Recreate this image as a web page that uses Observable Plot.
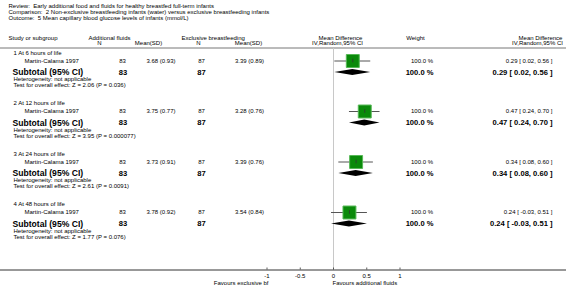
<!DOCTYPE html>
<html>
<head>
<meta charset="utf-8">
<script src="https://cdn.jsdelivr.net/npm/d3@7"></script>
<script src="https://cdn.jsdelivr.net/npm/@observablehq/plot@0.6"></script>
<style>
  html, body { margin: 0; padding: 0; background: #fff; }
</style>
</head>
<body>
<div id="chart"></div>
<script>
// ---------------- data ----------------
const titleLines = [
  "Review:  Early additional food and fluids for healthy breastfed full-term infants",
  "Comparison:  2 Non-exclusive breastfeeding infants (water) versus exclusive breastfeeding infants",
  "Outcome:  5 Mean capillary blood glucose levels of infants (mmol/L)"
];
const groups = ["1 At 6 hours of life", "2 At 12 hours of life", "3 At 24 hours of life", "4 At 48 hours of life"];
const studies = ["Martin-Calama 1997", "Martin-Calama 1997", "Martin-Calama 1997", "Martin-Calama 1997"];
const nAdd = [83, 83, 83, 83];
const meanAdd = [3.68, 3.75, 3.73, 3.78];
const sdAdd = [0.93, 0.77, 0.91, 0.92];
const nExc = [87, 87, 87, 87];
const meanExc = [3.39, 3.28, 3.39, 3.54];
const sdExc = [0.89, 0.76, 0.76, 0.84];
const md = [0.29, 0.47, 0.34, 0.24];
const lo = [0.02, 0.24, 0.08, -0.03];
const hi = [0.56, 0.70, 0.60, 0.51];
const weight = [100, 100, 100, 100];
const heterogeneity = ["Heterogeneity: not applicable", "Heterogeneity: not applicable", "Heterogeneity: not applicable", "Heterogeneity: not applicable"];
const zTests = ["Z = 2.06 (P = 0.036)", "Z = 3.95 (P = 0.000077)", "Z = 2.61 (P = 0.0091)", "Z = 1.77 (P = 0.076)"];
const tickValues = [-1, -0.5, 0, 0.5, 1];
const tickLabels = ["-1", "-0.5", "0", "0.5", "1"];
const favoursLeft = "Favours exclusive bf";
const favoursRight = "Favours additional fluids";

// ---------------- layout ----------------
const W = 566, H = 301;
const axisY = 269.5;
const xPx = [266.5, 399.5];               // pixel range of domain [-1, 1]
const px = d3.scaleLinear().domain(xPx).range([-1, 1]); // pixel -> data units for text columns
const f2 = d => d.toFixed(2);
const ci = (m, l, h) => `${f2(m)} [ ${f2(l)}, ${f2(h)} ]`;

const S0 = 60.5, STEP = 50.5;
const rows = groups.map((g, i) => {
  const s = S0 + i * STEP;
  return {
    i, label: g, study: studies[i],
    yLabel: s - 8, yStudy: s, ySub: s + 11.5, yHet: s + 18.3, yTest: s + 24.2,
    nA: nAdd[i], mA: `${f2(meanAdd[i])} (${f2(sdAdd[i])})`,
    nE: nExc[i], mE: `${f2(meanExc[i])} (${f2(sdExc[i])})`,
    md: md[i], lo: lo[i], hi: hi[i],
    w: weight[i].toFixed(1) + " %",
    ci: ci(md[i], lo[i], hi[i]),
    het: heterogeneity[i],
    test: "Test for overall effect: " + zTests[i]
  };
});

const diamonds = rows.flatMap(r => [
  {g: r.i, x: r.lo, y1: r.ySub, y2: r.ySub},
  {g: r.i, x: r.md, y1: r.ySub - 3, y2: r.ySub + 3},
  {g: r.i, x: r.hi, y1: r.ySub, y2: r.ySub}
]);

const small = 6, boldN = 7.6, boldL = 8.6, head = 6;
const T = (data, opts) => Plot.text(data, {fill: "#000", ...opts});

const titleData = titleLines.map((t, k) => ({t, y: 5.5 + k * 6}));

const headers = [
  {t: "Study or subgroup", x: 8, y: 37.5, a: "start"},
  {t: "Additional fluids", x: 88, y: 37.5, a: "start"},
  {t: "N", x: 99, y: 43, a: "middle"},
  {t: "Mean(SD)", x: 148, y: 43, a: "middle"},
  {t: "Exclusive breastfeeding", x: 181, y: 37.5, a: "start"},
  {t: "N", x: 198, y: 43, a: "middle"},
  {t: "Mean(SD)", x: 248, y: 43, a: "middle"},
  {t: "Mean Difference", x: 340, y: 37.5, a: "middle"},
  {t: "IV,Random,95% CI", x: 337, y: 43, a: "middle"},
  {t: "Weight", x: 415, y: 38, a: "middle"},
  {t: "Mean Difference", x: 540, y: 37.5, a: "middle"},
  {t: "IV,Random,95% CI", x: 537, y: 43, a: "middle"}
];

const chart = Plot.plot({
  width: W, height: H,
  marginTop: 0, marginLeft: 0, marginRight: 0, marginBottom: H - axisY,
  x: {domain: [-1, 1], range: xPx, axis: null},
  y: {domain: [0, axisY], range: [0, axisY], axis: null},
  style: {fontFamily: "'Liberation Sans', Arial, sans-serif", background: "#fff", overflow: "visible"},
  marks: [
    // titles
    T(titleData, {x: () => px(8), y: "y", text: "t", textAnchor: "start", fontSize: small}),
    // headers
    T(headers, {x: d => px(d.x), y: "y", text: "t", textAnchor: "start", fontSize: head, filter: d => d.a === "start"}),
    T(headers, {x: d => px(d.x), y: "y", text: "t", textAnchor: "middle", fontSize: head, filter: d => d.a === "middle"}),
    Plot.ruleY([47.5], {x1: px(0), x2: px(W), stroke: "#777", strokeWidth: 1}),
    // zero line
    Plot.ruleX([0], {y1: 48, y2: axisY, stroke: "#c8c8c8", strokeWidth: 1}),
    // group labels & study rows
    T(rows, {x: () => px(13), y: "yLabel", text: "label", textAnchor: "start", fontSize: small}),
    T(rows, {x: () => px(24), y: "yStudy", text: "study", textAnchor: "start", fontSize: small}),
    T(rows, {x: () => px(122), y: "yStudy", text: "nA", fontSize: small}),
    T(rows, {x: () => px(160.5), y: "yStudy", text: "mA", fontSize: small}),
    T(rows, {x: () => px(201), y: "yStudy", text: "nE", fontSize: small}),
    T(rows, {x: () => px(249), y: "yStudy", text: "mE", fontSize: small}),
    T(rows, {x: () => px(432.5), y: "yStudy", text: "w", textAnchor: "end", fontSize: small}),
    T(rows, {x: () => px(552), y: "yStudy", text: "ci", textAnchor: "end", fontSize: small}),
    // subtotal rows
    T(rows, {x: () => px(12), y: "ySub", text: () => "Subtotal (95% CI)", textAnchor: "start", fontSize: boldL, fontWeight: "bold"}),
    T(rows, {x: () => px(122.5), y: "ySub", text: "nA", fontSize: boldN, fontWeight: "bold"}),
    T(rows, {x: () => px(201), y: "ySub", text: "nE", fontSize: boldN, fontWeight: "bold"}),
    T(rows, {x: () => px(433), y: "ySub", text: "w", textAnchor: "end", fontSize: boldN, fontWeight: "bold"}),
    T(rows, {x: () => px(552), y: "ySub", text: "ci", textAnchor: "end", fontSize: boldN, fontWeight: "bold"}),
    T(rows, {x: () => px(13), y: "yHet", text: "het", textAnchor: "start", fontSize: small}),
    T(rows, {x: () => px(13), y: "yTest", text: "test", textAnchor: "start", fontSize: small}),
    // forest: CI lines, squares, centre ticks
    Plot.ruleY(rows, {y: "yStudy", x1: "lo", x2: "hi", stroke: "#555", strokeWidth: 1}),
    Plot.dot(rows, {x: "md", y: "yStudy", symbol: "square", r: 7.3, fill: "#0a8a0a", stroke: "#56b856", strokeWidth: 1}),
    Plot.ruleX(rows, {x: "md", y1: d => d.yStudy - 1.8, y2: d => d.yStudy + 1.8, stroke: "#333", strokeWidth: 0.8}),
    // diamonds
    Plot.areaY(diamonds, {x: "x", y1: "y1", y2: "y2", z: "g", fill: "#000"}),
    // axis
    Plot.ruleY([axisY], {x1: px(0), x2: px(W), stroke: "#333", strokeWidth: 1}),
    Plot.ruleX(tickValues, {y1: axisY - 2, y2: axisY, stroke: "#333", strokeWidth: 0.8}),
    Plot.text(tickValues, {x: d => d, y: () => axisY + 6, text: (d, i) => tickLabels[i], fontSize: small, fill: "#000"}),
    Plot.text([favoursLeft], {x: () => -1, dx: 1.5, y: () => axisY + 13, text: d => d, textAnchor: "end", fontSize: small, fill: "#000"}),
    Plot.text([favoursRight], {x: () => 0, dx: -1, y: () => axisY + 13, text: d => d, textAnchor: "start", fontSize: small, fill: "#000"})
  ]
});
document.getElementById("chart").appendChild(chart);
</script>
</body>
</html>
